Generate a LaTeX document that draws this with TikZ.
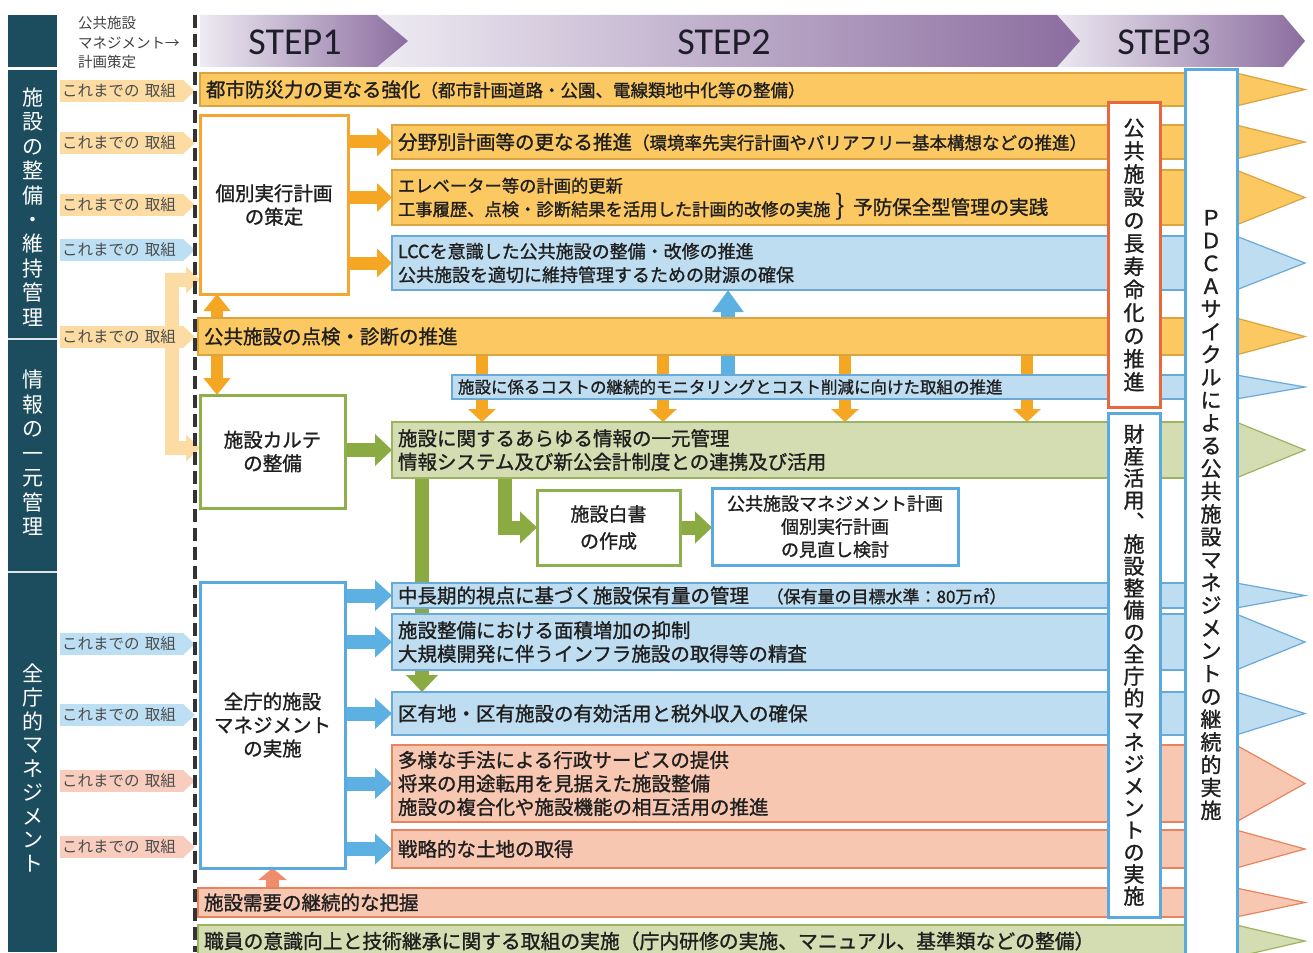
\documentclass[tikz,border=0pt]{standalone}
\usepackage{fontspec}
\setmainfont{Noto Sans CJK JP}[BoldFont={Noto Sans CJK JP}, BoldFeatures={FakeBold=1.2}]
\newfontfamily\stepfont{Carlito}
\usetikzlibrary{arrows.meta}
\pgfdeclarelayer{bg}
\pgfsetlayers{bg,main}
\newcommand\fsz[2]{\fontsize{#1pt}{#2pt}\selectfont}
\definecolor{colTeal}{HTML}{1B4D5E}
\definecolor{stepL}{HTML}{EEEBF3}
\definecolor{stepR}{HTML}{8B6D9F}
\definecolor{stepTxt}{HTML}{1E1E2A}
\definecolor{oFill}{HTML}{FBC862}
\definecolor{oLine}{HTML}{D9A441}
\definecolor{bFill}{HTML}{BEDDF1}
\definecolor{bLine}{HTML}{6AAAD9}
\definecolor{gFill}{HTML}{D3DDB1}
\definecolor{gLine}{HTML}{9CB45F}
\definecolor{pFill}{HTML}{F8C7B2}
\definecolor{pLine}{HTML}{E8845D}
\definecolor{aOrange}{HTML}{F5A623}
\definecolor{aBlue}{HTML}{5CB0E2}
\definecolor{aGreen}{HTML}{8CAA42}
\definecolor{aPink}{HTML}{EE8C6C}
\definecolor{lOrange}{HTML}{FCDCA2}
\definecolor{lBlue}{HTML}{BCDFF4}
\definecolor{lPink}{HTML}{F9CDBE}
\definecolor{kOrange}{HTML}{F4A630}
\definecolor{kGreen}{HTML}{8FAF4C}
\definecolor{kBlue}{HTML}{5AAAE0}
\definecolor{kRed}{HTML}{E8673C}

% bar: name, fill, line, x1, y1, y2, text
\newcommand\mkbar[7]{%
  \pgfmathsetmacro\barW{1236-#4}%
  \pgfmathsetmacro\barH{#6-#5}%
  \pgfmathsetmacro\barT{1236-#4-12}%
  \node[barnode, fill=#2, draw=#3, minimum width=\barW pt, minimum height=\barH pt, text width=\barT pt] (#1) at (#4,#5) {#7};
  \filldraw[fill=#2, draw=#3, line width=1.2pt, line join=miter] (#1.north east) -- ([xshift=69pt]#1.east) -- (#1.south east);
}
% label arrow: name, colour, y
\newcommand\mklbl[3]{%
  \node[lblnode, fill=#2] (#1) at (60,#3) {これまでの\hspace{0.35em}取組};
  \fill[#2] (#1.north east) -- ([xshift=12pt]#1.east) -- (#1.south east) -- cycle;
}

\begin{document}
\begin{tikzpicture}[x=1pt,y=-1pt,
  barnode/.style={anchor=north west, inner xsep=5pt, inner ysep=0pt, outer sep=0pt, line width=1.2pt, align=left, font=\bfseries\fsz{19.5}{23.5}, text=black!88},
  lblnode/.style={anchor=west, minimum width=123pt, minimum height=22pt, text width=119pt, inner xsep=2pt, inner ysep=0pt, outer sep=0pt, align=left, font=\fsz{15.5}{18}, text=black!70},
  wbox/.style={anchor=north west, fill=white, line width=3pt, align=center, inner sep=0pt, outer sep=0pt, font=\bfseries\fsz{19.5}{23.5}, text=black!88},
  vbox/.style={wbox, minimum width=52pt},
  coltext/.style={text=white, align=center, inner sep=0pt, font=\fsz{21}{24.4}},
  steptext/.style={text=stepTxt, inner sep=0pt, font=\stepfont\fsz{38}{38}},
  oa/.style={draw=aOrange, line width=13pt, -{Triangle[length=15pt,width=28pt]}},
  oaa/.style={draw=aOrange, line width=12pt, -{Triangle[length=17pt,width=26pt]}},
  oas/.style={draw=aOrange, line width=12pt, -{Triangle[length=13pt,width=27pt]}},
  ba/.style={draw=aBlue, line width=14pt, -{Triangle[length=17pt,width=30pt]}},
  bau/.style={draw=aBlue, line width=14pt, -{Triangle[length=22pt,width=30pt]}},
  ga/.style={draw=aGreen, line width=14pt, line join=miter, -{Triangle[length=17pt,width=31pt]}},
  pa/.style={draw=aPink, line width=13pt, -{Triangle[length=12pt,width=28pt]}},
  la/.style={draw=lOrange, line width=14pt, line join=miter, -{Triangle[length=14pt,width=26pt]}},
  dashline/.style={draw=black!80, line width=3.5pt, dash pattern=on 13pt off 6pt}
]
\useasboundingbox (0,0) rectangle (1313,952);

% STEP banners
\shade[left color=stepL, right color=stepR] (1050,15) -- (1283,15) -- (1305,41) -- (1283,67) -- (1050,67) -- cycle;
\shade[left color=stepL, right color=stepR] (377,15) -- (1057,15) -- (1080,41) -- (1057,67) -- (377,67) -- cycle;
\shade[left color=stepL, right color=stepR] (200,15) -- (377,15) -- (408,41) -- (377,67) -- (200,67) -- cycle;
\node[steptext] (s1) at (295,42) {STEP1};
\node[steptext] (s2) at (724,42) {STEP2};
\node[steptext] (s3) at (1164,42) {STEP3};

% left column
\fill[colTeal] (8,15) rectangle (57,67);
\fill[colTeal] (8,70) rectangle (57,952);
\draw[white!85!colTeal, line width=1.5pt] (8,339) -- (57,339);
\draw[white!85!colTeal, line width=1.5pt] (8,572) -- (57,572);
\node[coltext] (c1) at (33,207) {施\\設\\の\\整\\備\\・\\維\\持\\管\\理};
\node[coltext, font=\fsz{21}{24.5}] (c2) at (33,453) {情\\報\\の\\一\\元\\管\\理};
\node[coltext, font=\fsz{21}{23.75}] (c3) at (33,768) {全\\庁\\的\\マ\\ネ\\ジ\\メ\\ン\\ト};

% header
\node[anchor=west, align=left, inner sep=0pt, font=\fsz{14.5}{19.5}, text=black!75] (hdr) at (78,43) {公共施設\\マネジメント→\\計画策定};

% labels
\mklbl{l1}{lOrange}{91}
\mklbl{l2}{lOrange}{143}
\mklbl{l3}{lOrange}{205}
\mklbl{l4}{lBlue}{250}
\mklbl{l5}{lOrange}{337}
\mklbl{l6}{lBlue}{644}
\mklbl{l7}{lBlue}{715}
\mklbl{l8}{lPink}{781}
\mklbl{l9}{lPink}{847}

% bars
\mkbar{bA}{oFill}{oLine}{200}{73}{106}{都市防災力の更なる強化{\fsz{17.5}{20}（都市計画道路・公園、電線類地中化等の整備）}}
\mkbar{bB}{oFill}{oLine}{392}{125}{159}{分野別計画等の更なる推進{\fsz{17.5}{20}（環境率先実行計画やバリアフリー基本構想などの推進）}}
\mkbar{bC}{oFill}{oLine}{392}{170}{225}{\fsz{17.3}{22}エレベーター等の計画的更新\\工事履歴、点検・診断結果を活用した計画的改修の実施}
\mkbar{bD}{bFill}{bLine}{392}{236}{290}{\fsz{18}{23}LCCを意識した公共施設の整備・改修の推進\\公共施設を適切に維持管理するための財源の確保}
\mkbar{bE}{oFill}{oLine}{198}{318}{355}{公共施設の点検・診断の推進}
\mkbar{bF}{bFill}{bLine}{452}{375}{399}{\fsz{16.5}{20}施設に係るコストの継続的モニタリングとコスト削減に向けた取組の推進}
\mkbar{bG}{gFill}{gLine}{392}{422}{478}{施設に関するあらゆる情報の一元管理\\情報システム及び新公会計制度との連携及び活用}
\mkbar{bH}{bFill}{bLine}{392}{583}{608}{中長期的視点に基づく施設保有量の管理\hspace{0.9em}{\fsz{17}{20}（保有量の目標水準：80万㎡）}}
\mkbar{bI}{bFill}{bLine}{392}{614}{670}{施設整備における面積増加の抑制\\大規模開発に伴うインフラ施設の取得等の精査}
\mkbar{bJ}{bFill}{bLine}{392}{692}{735}{区有地・区有施設の有効活用と税外収入の確保}
\mkbar{bK}{pFill}{pLine}{392}{745}{822}{多様な手法による行政サービスの提供\\将来の用途転用を見据えた施設整備\\施設の複合化や施設機能の相互活用の推進}
\mkbar{bL}{pFill}{pLine}{392}{830}{868}{戦略的な土地の取得}
\mkbar{bM}{pFill}{pLine}{198}{888}{917}{施設需要の継続的な把握}
\mkbar{bN}{gFill}{gLine}{198}{925}{957}{\fsz{19.8}{23.5}職員の意識向上と技術継承に関する取組の実施（庁内研修の実施、マニュアル、基準類などの整備）}

\node[anchor=west, inner sep=0pt, font=\fsz{28}{28}, text=black!88] (brc) at (835,207) {\}};
\node[anchor=west, inner sep=0pt, font=\bfseries\fsz{19.5}{23.5}, text=black!88] (yobo) at (853,207) {予防保全型管理の実践};

% boxes
\node[wbox, draw=kOrange, minimum width=148pt, minimum height=178pt] (kobetsu) at (200,116) {個別実行計画\\の策定};
\node[wbox, draw=kGreen, minimum width=145pt, minimum height=113pt] (karte) at (200,395) {施設カルテ\\の整備};
\node[wbox, draw=kBlue, minimum width=145pt, minimum height=286pt] (zencho) at (200,582) {全庁的施設\\マネジメント\\の実施};
\node[wbox, draw=kGreen, minimum width=143pt, minimum height=75pt, font=\bfseries\fsz{19}{27}] (hakusho) at (537,490) {施設白書\\の作成};
\node[wbox, draw=kBlue, minimum width=246pt, minimum height=77pt, font=\bfseries\fsz{18}{23}] (minaoshi) at (712,488) {公共施設マネジメント計画\\個別実行計画\\の見直し検討};

% vertical boxes
\node[vbox, draw=kRed, minimum height=304pt, font=\bfseries\fsz{21}{23.1}] (choju) at (1108,103) {公\\共\\施\\設\\の\\長\\寿\\命\\化\\の\\推\\進};
\node[vbox, draw=kBlue, minimum height=504pt, font=\bfseries\fsz{21}{22}] (zaisan) at (1108,413) {財\\産\\活\\用\\︑\\施\\設\\整\\備\\の\\全\\庁\\的\\マ\\ネ\\ジ\\メ\\ン\\ト\\の\\実\\施};
\node[vbox, draw=kBlue, minimum height=890pt, font=\bfseries\fsz{21}{22.8}] (pdca) at (1185,70) {Ｐ\\Ｄ\\Ｃ\\Ａ\\サ\\イ\\ク\\ル\\に\\よ\\る\\公\\共\\施\\設\\マ\\ネ\\ジ\\メ\\ン\\ト\\の\\継\\続\\的\\実\\施};

% dashed divider
\coordinate (dT) at (195,15);
\coordinate (dB) at (195,952);
\draw[dashline] (dT) -- (dB);

% connectors
\coordinate (xA) at (217,0);
\coordinate (xB) at (728,0);
\coordinate (xO1) at (482,0);
\coordinate (xO2) at (663,0);
\coordinate (xO3) at (845,0);
\coordinate (xO4) at (1027,0);
\coordinate (xG) at (422,0);
\coordinate (xG2) at (505,0);
\coordinate (brT) at (172,280);
\coordinate (brB) at (172,448);
\begin{pgfonlayer}{bg}
\foreach \b in {bB,bC,bD} \draw[oa] (kobetsu.east |- \b.west) -- (\b.west);
\draw[oaa] (bE.north -| xA) -- (kobetsu.south -| xA);
\draw[oaa] (bE.south -| xA) -- (karte.north -| xA);
\draw[la] (brB) -- (brT) -- (kobetsu.west |- brT);
\draw[la] (brT) -- (brB) -- (karte.west |- brB);
\draw[bau] (bF.north -| xB) -- (bD.south -| xB);
\foreach \c in {xO1,xO2,xO3,xO4} \draw[oas] (bE.south -| \c) -- (bG.north -| \c);
\draw[ga] (karte.east |- bG.west) -- (bG.west);
\draw[ga] (bG.south -| xG) -- (bJ.north -| xG);
\draw[ga] (bG.south -| xG2) |- (hakusho.west);
\draw[ga] (hakusho.east) -- (minaoshi.west |- hakusho.east);
\foreach \b in {bH,bI,bJ,bK,bL} \draw[ba] (zencho.east |- \b.west) -- (\b.west);
\draw[pa] (bM.north -| zencho.south) -- (zencho.south);
\end{pgfonlayer}
\end{tikzpicture}
\end{document}
